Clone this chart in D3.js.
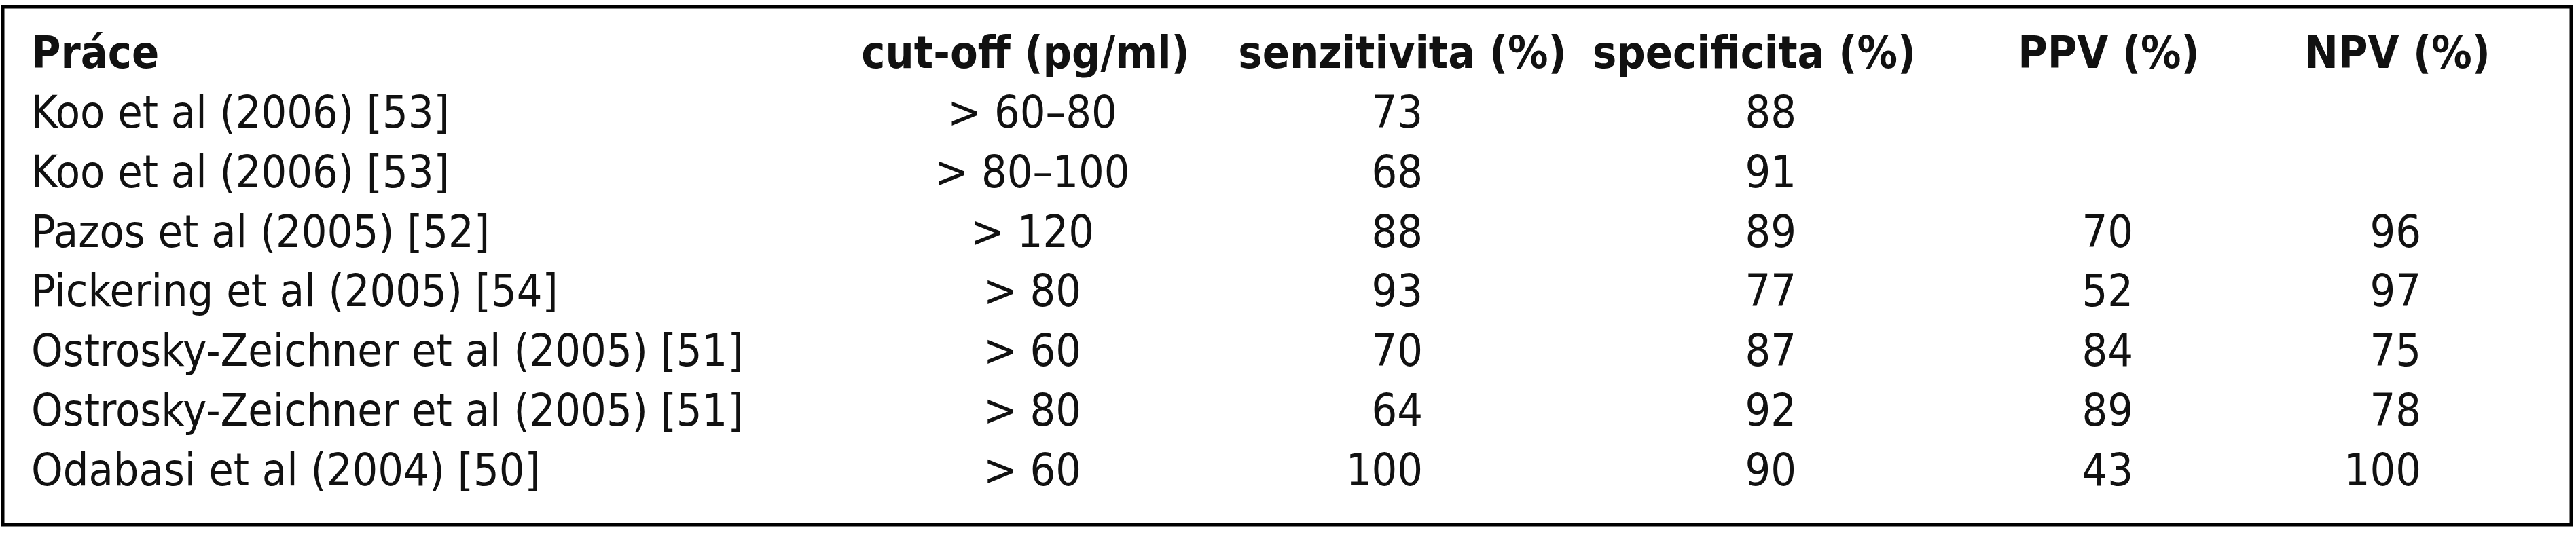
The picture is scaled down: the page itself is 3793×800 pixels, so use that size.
<!DOCTYPE html>
<html><head><meta charset="utf-8">
<script src="https://cdn.jsdelivr.net/npm/d3@7"></script>
<style>body{margin:0;background:#fff}svg{display:block}</style>
</head><body><svg id="c" width="3793" height="800"></svg>
<script>
const headers = ["Práce","cut-off (pg/ml)","senzitivita (%)","specificita (%)","PPV (%)","NPV (%)"];
const studies = ["Koo et al (2006) [53]","Koo et al (2006) [53]","Pazos et al (2005) [52]","Pickering et al (2005) [54]","Ostrosky-Zeichner et al (2005) [51]","Ostrosky-Zeichner et al (2005) [51]","Odabasi et al (2004) [50]"];
const cutoff = ["> 60–80","> 80–100","> 120","> 80","> 60","> 80","> 60"];
const sensitivity = [73,68,88,93,70,64,100];
const specificity = [88,91,89,77,87,92,90];
const ppv = [null,null,70,52,84,89,43];
const npv = [null,null,96,97,75,78,100];

const svg = d3.select("#c");
const font = "'Liberation Sans Narrow','DejaVu Sans Condensed',sans-serif";
const fs = 66;
svg.append("rect").attr("x",4).attr("y",10).attr("width",3782).attr("height",763)
  .attr("fill","none").attr("stroke","#000").attr("stroke-width",5);

const y = d3.scalePoint().domain(d3.range(studies.length+1)).range([100,715]);
const headerX = [46,1510,2065,2583,3105,3530];
const headerAnchor = ["start","middle","middle","middle","middle","middle"];
svg.selectAll("text.h").data(headers).join("text").attr("class","h")
  .attr("x",(d,i)=>headerX[i]).attr("y",y(0)).attr("text-anchor",(d,i)=>headerAnchor[i])
  .attr("font-family",font).attr("font-size",fs).attr("font-weight","bold").attr("fill","#111").text(d=>d);

const cols = [
  {vals:studies,x:46,anchor:"start"},
  {vals:cutoff,x:1520,anchor:"middle"},
  {vals:sensitivity,x:2095,anchor:"end"},
  {vals:specificity,x:2645,anchor:"end"},
  {vals:ppv,x:3141,anchor:"end"},
  {vals:npv,x:3565,anchor:"end"}
];
cols.forEach((c,ci)=>{
  svg.selectAll("text.c"+ci).data(c.vals.map((v,i)=>({v,i})).filter(d=>d.v!==null)).join("text")
    .attr("class","c"+ci).attr("x",c.x).attr("y",d=>y(d.i+1)).attr("text-anchor",c.anchor)
    .attr("font-family",font).attr("font-size",fs).attr("fill","#111").text(d=>d.v);
});
</script></body></html>
